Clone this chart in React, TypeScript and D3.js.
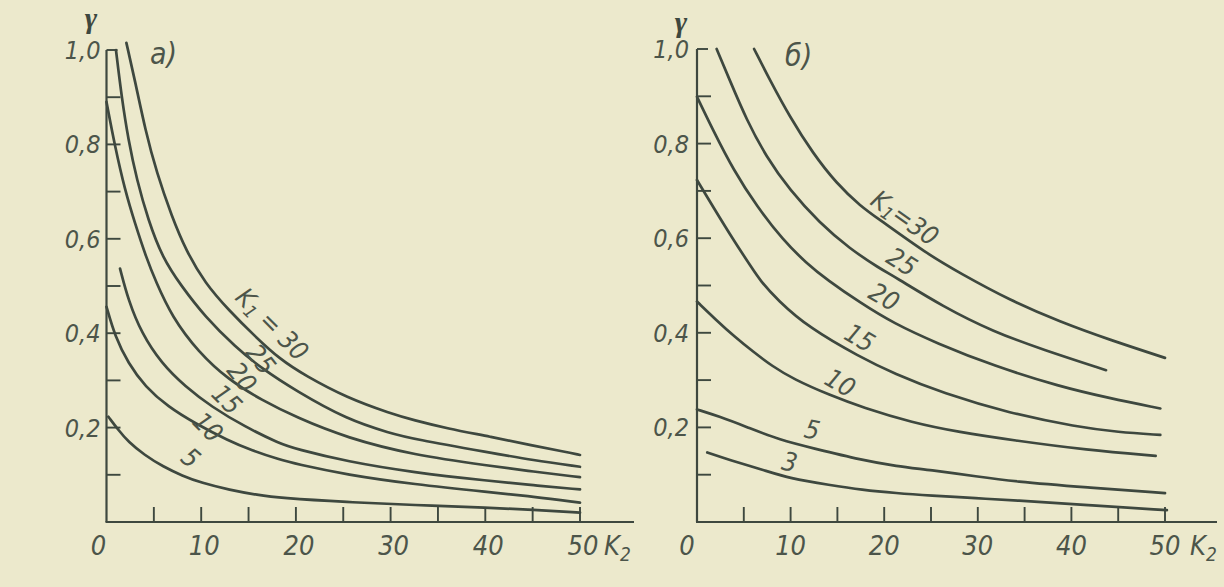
import React from 'react';
import * as d3 from 'd3';

// ---------- data ----------
const xMinorTicks = [5, 10, 15, 20, 25, 30, 35, 40, 45, 50];
const xTickLabels = [0, 10, 20, 30, 40, 50];
const yMinorTicks = [0.1, 0.2, 0.3, 0.4, 0.5, 0.6, 0.7, 0.8, 0.9, 1.0];
const yTickLabels = [0.2, 0.4, 0.6, 0.8, 1.0];

// panel а) : [K2, gamma]
const a30 = [[2.1,1.015],[3,0.936],[4.1,0.83],[5.3,0.74],[6.9,0.647],[8.4,0.575],[10.4,0.506],[12.9,0.449],[15.7,0.393],[18.3,0.345],[21,0.31],[25.4,0.263],[30,0.23],[32.4,0.216],[36,0.198],[40.5,0.181],[45,0.162],[48.4,0.149],[50,0.142]];
const a25 = [[1.0,1.0],[1.6,0.9],[2.3,0.81],[3.2,0.725],[4.4,0.64],[5.9,0.56],[7.9,0.5],[10.4,0.435],[13.6,0.371],[16.4,0.325],[20,0.278],[25.4,0.217],[30,0.188],[32.4,0.176],[40.5,0.147],[45,0.131],[50,0.117]];
const a20 = [[0,0.89],[0.9,0.795],[1.95,0.703],[3.0,0.633],[4.2,0.56],[5.2,0.51],[6.9,0.435],[9.7,0.36],[12.9,0.301],[16.4,0.258],[20,0.222],[25.4,0.178],[32.4,0.142],[40.5,0.119],[45,0.107],[50,0.095]];
const a15 = [[1.43,0.537],[2.3,0.47],[3.7,0.4],[5.8,0.336],[8.3,0.287],[11.1,0.244],[14.6,0.202],[18.3,0.166],[20,0.155],[25.4,0.128],[32.4,0.105],[40.5,0.087],[45,0.078],[50,0.069]];
const a10 = [[0,0.456],[0.9,0.393],[2.3,0.336],[4.07,0.287],[6.5,0.244],[9.35,0.209],[12.9,0.172],[15.3,0.152],[18.3,0.132],[20,0.123],[25.4,0.1],[32.4,0.08],[40.5,0.063],[45,0.054],[50,0.041]];
const a5 = [[0.2,0.223],[1.25,0.195],[2.3,0.17],[4,0.142],[6,0.117],[8,0.098],[10,0.083],[13,0.068],[16,0.057],[18.3,0.051],[25.4,0.042],[32.4,0.036],[40.5,0.03],[45,0.026],[50,0.02]];

// panel б)
const b30 = [[6.1,1.0],[7.8,0.934],[9.9,0.857],[12.4,0.779],[14.9,0.716],[17.5,0.667],[19.6,0.638],[24.5,0.568],[28.1,0.526],[33.4,0.469],[38.8,0.423],[44.1,0.385],[50,0.347]];
const b25 = [[2.1,1.0],[3.5,0.934],[5.3,0.85],[7.4,0.772],[9.9,0.702],[13.1,0.632],[16.3,0.578],[19.6,0.535],[21,0.52],[26.3,0.455],[31.7,0.402],[37,0.364],[43.7,0.321]];
const b20 = [[0,0.899],[1.7,0.829],[3.9,0.744],[6.4,0.667],[9.2,0.596],[11.7,0.547],[13.9,0.512],[17.4,0.464],[21,0.42],[25.6,0.378],[31.7,0.33],[38.8,0.286],[44,0.262],[49.5,0.24]];
const b15 = [[0,0.723],[1.7,0.667],[3.9,0.596],[6.0,0.533],[6.7,0.512],[8.6,0.469],[12,0.41],[17.4,0.349],[21,0.314],[26.3,0.272],[33.4,0.23],[40.6,0.201],[45,0.19],[49.5,0.184]];
const b10 = [[0,0.466],[2,0.428],[4,0.392],[6,0.36],[8,0.33],[10.3,0.302],[14.2,0.268],[17.7,0.242],[23,0.21],[28,0.19],[33.7,0.173],[41.7,0.152],[49,0.14]];
const b5 = [[0,0.238],[2.4,0.223],[5.3,0.201],[8.9,0.173],[12.4,0.156],[17.6,0.131],[21.3,0.118],[24.9,0.11],[30,0.096],[33.7,0.086],[41.7,0.073],[50,0.061]];
const b3 = [[1.1,0.147],[3.5,0.131],[7.1,0.11],[9.9,0.092],[14.2,0.078],[17.6,0.068],[21.3,0.061],[24.9,0.056],[30,0.05],[33.7,0.046],[41.7,0.036],[50.2,0.025]];

const k1A = ['30', '25', '20', '15', '10', '5'];
const k1B = ['30', '25', '20', '15', '10', '5', '3'];

// label anchor points [K2, gamma, angle]
const labelPosA = [[17.5,0.419,45],[16.3,0.345,52],[14.3,0.307,52],[12.7,0.26,45],[10.7,0.201,45],[8.9,0.136,40]];
const labelPosB = [[22.2,0.643,35],[21.9,0.55,32],[20,0.476,30],[17.4,0.389,30],[15.3,0.294,30],[12.3,0.195,12],[9.9,0.127,12]];

// ---------- style ----------
const W = 1224, H = 587;
const BG = '#ece9cc';
const INK = '#3e483f';
const TXT = '#4c554a';
const FONT = "'Liberation Sans Narrow', 'DejaVu Sans Condensed', sans-serif";

const panels = [
  { key: 'a', xr: [106.5, 580], yr: [522, 50], axisEnd: 634, curves: [a30, a25, a20, a15, a10, a5], names: k1A, pos: labelPosA,
    title: 'а)', titleXY: [150, 64], gammaXY: [91, 28], k2XY: [604, 555], yLabDx: -6, x0Dx: -8, xDx: 3, spaced: true },
  { key: 'b', xr: [697, 1165], yr: [522, 49], axisEnd: 1217, curves: [b30, b25, b20, b15, b10, b5, b3], names: k1B, pos: labelPosB,
    title: 'б)', titleXY: [785, 66], gammaXY: [681, 32], k2XY: [1190, 555], yLabDx: -8, x0Dx: -10, xDx: 0, spaced: false },
];

function Panel({ p }: { p: any }) {
  const x = d3.scaleLinear().domain([0, 50]).range(p.xr);
  const y = d3.scaleLinear().domain([0, 1]).range(p.yr);
  const line = d3.line<number[]>().x(d => x(d[0])).y(d => y(d[1])).curve(d3.curveBasis);
  const x0 = x(0), yBase = y(0);
  return (
    <g>
      {/* axes */}
      <line x1={x0} y1={y(1)} x2={x0} y2={yBase} stroke={INK} strokeWidth={2.2} />
      <line x1={x0 - 1} y1={yBase} x2={p.axisEnd} y2={yBase} stroke={INK} strokeWidth={2.2} />
      {yMinorTicks.map(t => (
        <line key={'yt' + t} x1={x0} x2={x0 + (t === 1 ? 11 : 14)} y1={y(t)} y2={y(t)} stroke={INK} strokeWidth={1.9} />
      ))}
      {xMinorTicks.map(t => (
        <line key={'xt' + t} x1={x(t)} x2={x(t)} y1={yBase} y2={yBase - 15} stroke={INK} strokeWidth={1.9} />
      ))}
      {/* tick labels */}
      {yTickLabels.map(t => (
        <text key={'yl' + t} x={x0 + p.yLabDx} y={y(t) + 9} textAnchor="end" fontFamily={FONT} fontStyle="italic"
          fontSize={25} fill={TXT}>{t.toFixed(1).replace('.', ',')}</text>
      ))}
      {xTickLabels.map(t => (
        <text key={'xl' + t} x={x(t) + (t === 0 ? p.x0Dx : p.xDx)} y={555} textAnchor="middle" fontFamily={FONT}
          fontStyle="italic" fontSize={27} fill={TXT}>{String(t)}</text>
      ))}
      <text x={p.k2XY[0]} y={p.k2XY[1]} fontFamily={FONT} fontStyle="italic" fontSize={27} fill={TXT}>
        K<tspan fontSize={19} dy={6}>2</tspan>
      </text>
      <text x={p.gammaXY[0]} y={p.gammaXY[1]} textAnchor="middle" fontFamily="'Liberation Serif', 'DejaVu Serif', serif"
        fontWeight="bold" fontStyle="italic" fontSize={30} fill={INK}>γ</text>
      <text x={p.titleXY[0]} y={p.titleXY[1]} fontFamily={FONT} fontStyle="italic" fontSize={30} fill={TXT}>{p.title}</text>
      {/* curves */}
      {p.curves.map((c: number[][], i: number) => (
        <path key={'c' + i} d={line(c) || ''} fill="none" stroke={INK} strokeWidth={2.7} strokeLinecap="round" />
      ))}
      {/* curve labels */}
      {p.names.map((n: string, i: number) => {
        const [k, g, a] = p.pos[i];
        return (
          <text key={'lb' + i} transform={`translate(${x(k)},${y(g)}) rotate(${a})`} textAnchor="middle"
            dominantBaseline="central" fontFamily={FONT} fontStyle="italic" fontSize={26} fill={TXT}>
            {i === 0 ? (
              <>K<tspan fontSize={18} dy={6}>1</tspan><tspan dy={-6}>{p.spaced ? ' = ' : '='}{n}</tspan></>
            ) : n}
          </text>
        );
      })}
    </g>
  );
}

export default function App() {
  return (
    <svg width={W} height={H} viewBox={`0 0 ${W} ${H}`} style={{ position: 'absolute', left: 0, top: 0, display: 'block' }}>
      <rect x={0} y={0} width={W} height={H} fill={BG} />
      {panels.map(p => <Panel key={p.key} p={p} />)}
    </svg>
  );
}
